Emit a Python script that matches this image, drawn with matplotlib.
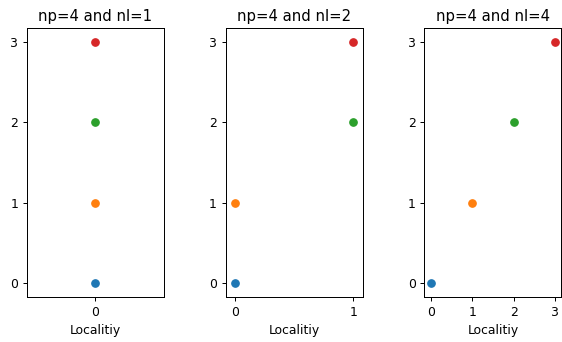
import matplotlib
matplotlib.use("Agg")
import matplotlib.pyplot as plt

# process index (y) vs locality (x), one panel per number of localities
n_procs = 4
n_localities = [1, 2, 4]
processes = [0, 1, 2, 3]
localities = {
    1: [0, 0, 0, 0],
    2: [0, 0, 1, 1],
    4: [0, 1, 2, 3],
}
colors = ["#1f77b4", "#ff7f0e", "#2ca02c", "#d62728"]

dpi = 89
fig, axes = plt.subplots(1, 3, figsize=(562 / dpi, 342 / dpi), dpi=dpi)
fig.subplots_adjust(left=0.048, right=0.999, bottom=0.1316, top=0.918, wspace=0.45)

for ax, nl in zip(axes, n_localities):
    for p, loc, c in zip(processes, localities[nl], colors):
        ax.scatter(loc, p, color=c)
    ax.set_title(f"np={n_procs} and nl={nl}")
    ax.set_xlabel("Localitiy")
    ax.set_xticks(sorted(set(localities[nl])))
    ax.set_yticks(processes)
    ax.margins(y=0.058)
    if nl == 2:
        ax.margins(x=0.08)

fig.savefig("out.png", dpi=dpi)
